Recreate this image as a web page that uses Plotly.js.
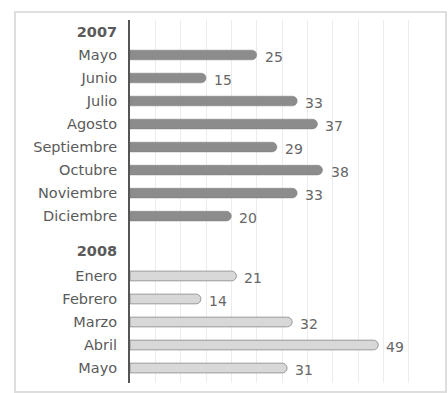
<!DOCTYPE html>
<html>
<head>
<meta charset="utf-8">
<script src="https://cdn.plot.ly/plotly-3.0.1.min.js"></script>
<style>html,body{margin:0;padding:0;background:#fff;}#chart{width:448px;height:393px;}</style>
</head>
<body>
<div id="chart"></div>
<script>
const year1 = "2007";
const months1 = ["Mayo","Junio","Julio","Agosto","Septiembre","Octubre","Noviembre","Diciembre"];
const values1 = [25, 15, 33, 37, 29, 38, 33, 20];
const year2 = "2008";
const months2 = ["Enero","Febrero","Marzo","Abril","Mayo"];
const values2 = [21, 14, 32, 49, 31];

// row positions (layout only)
const head1 = 0;
const pos1 = months1.map((m, i) => head1 + 1 + i);
const head2 = pos1[pos1.length - 1] + 1.5;
const pos2 = months2.map((m, i) => head2 + 1.1 + i);

const tickvals = [head1].concat(pos1, [head2], pos2);
const ticktext = ["<b>" + year1 + "</b>"].concat(months1, ["<b>" + year2 + "</b>"], months2);

const font = "DejaVu Sans, Verdana, sans-serif";

const traces = [
  {
    type: "bar", orientation: "h",
    x: values1, y: pos1,
    width: 0.42,
    marker: {color: "#8c8c8c", cornerradius: 5, line: {color: "#7c7c7c", width: 0.5}},
    hoverinfo: "none"
  },
  {
    type: "bar", orientation: "h",
    x: values2, y: pos2,
    width: 0.42,
    marker: {color: "#d8d8d8", cornerradius: 5, line: {color: "#999", width: 1}},
    hoverinfo: "none"
  }
];

const labelAnn = (vals, pos) => vals.map((v, i) => ({
  x: v, y: pos[i], xref: "x", yref: "y", text: String(v),
  showarrow: false, xanchor: "left", yanchor: "middle", xshift: 6, yshift: -2,
  font: {family: font, size: 14, color: "#666"}
}));

const layout = {
  width: 448, height: 393,
  margin: {l: 130, r: 14, t: 20, b: 10, pad: 0},
  paper_bgcolor: "#fff", plot_bgcolor: "#fff",
  showlegend: false,
  barmode: "overlay",
  font: {family: font, color: "#555"},
  xaxis: {
    range: [0, 60], dtick: 5, showgrid: true, gridcolor: "#ececec", gridwidth: 1,
    showticklabels: false, zeroline: false, showline: false, ticks: ""
  },
  yaxis: {
    range: [15.25, -0.52], tickmode: "array", tickvals: tickvals, ticktext: ticktext,
    showgrid: false, zeroline: false, showline: true, linecolor: "#555", linewidth: 2,
    ticks: "", ticklabelstandoff: 8,
    tickfont: {family: font, size: 14.5, color: "#5a5a5a"}
  },
  annotations: labelAnn(values1, pos1).concat(labelAnn(values2, pos2)),
  shapes: [
    {type: "rect", xref: "paper", yref: "paper",
     x0: (15 - 130) / 304, x1: (446 - 130) / 304,
     y0: (383 - 392) / 363, y1: (383 - 12) / 363,
     line: {color: "#dedede", width: 2}, fillcolor: "rgba(0,0,0,0)", layer: "below"}
  ]
};

Plotly.newPlot("chart", traces, layout, {displayModeBar: false, staticPlot: true});
</script>
</body>
</html>
